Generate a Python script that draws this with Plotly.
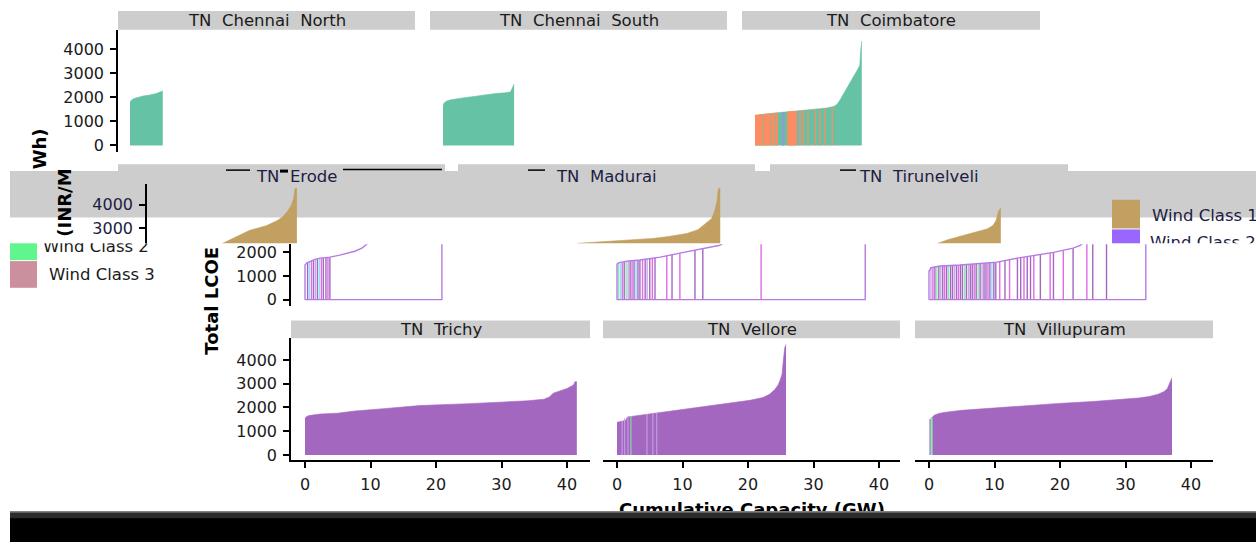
import plotly.graph_objects as go

W, H = 1256, 542
FONT = "DejaVu Sans"

# ---------------- data ----------------
row1_names = ["TN\u00a0 Chennai\u00a0 North", "TN\u00a0 Chennai\u00a0 South", "TN\u00a0 Coimbatore"]
row2_names = ["TN\u00a0 Erode", "TN\u00a0 Madurai", "TN\u00a0 Tirunelveli"]
row3_names = ["TN\u00a0 Trichy", "TN\u00a0 Vellore", "TN\u00a0 Villupuram"]
y_ticks = [0, 1000, 2000, 3000, 4000]
x_ticks = [0, 10, 20, 30, 40]
legend_labels = ["Wind Class 1", "Wind Class 2", "Wind Class 3"]
x_title = "Cumulative Capacity (GW)"
y_title_parts = ["Total LCOE", "(INR/M", "Wh)"]

# cumulative capacity (GW) and total LCOE (INR/MWh)
chennai_n_cap = [0, 0.2, 0.6, 1.2, 2.0, 3.0, 4.0, 4.6, 5.0]
chennai_n_lcoe = [1800, 1880, 1950, 2000, 2060, 2100, 2160, 2230, 2270]
chennai_s_cap = [0, 0.2, 0.6, 1.2, 2.5, 4.0, 6.0, 8.0, 9.5, 10.3, 10.6, 10.85]
chennai_s_lcoe = [1650, 1780, 1850, 1900, 1960, 2020, 2100, 2160, 2190, 2230, 2400, 2560]
coimbatore_cap = [0, 1, 3, 5, 7, 9, 11, 12, 12.5, 13.0, 13.5, 14.0, 14.5, 15.0, 15.5, 16.0, 16.15, 16.3]
coimbatore_lcoe = [1250, 1290, 1350, 1400, 1450, 1500, 1560, 1620, 1700, 1900, 2150, 2400, 2620, 2850, 3080,
                   3340, 4000, 4350]
coim_orange_start = [0.0, 0.6, 1.3, 1.8, 2.4, 3.1, 4.9, 5.4, 6.8, 7.2, 8.0, 9.1, 9.8, 10.6, 11.7]
coim_orange_end = [0.6, 1.2, 1.8, 2.3, 3.0, 3.5, 5.4, 6.4, 7.0, 7.4, 8.2, 9.3, 10.0, 10.8, 11.9]
coim_orange_lcoe = [1275, 1295, 1315, 1330, 1350, 1362, 1410, 1435, 1450, 1460, 1480, 1508, 1518, 1555, 1615]
coim_blue_start = [4.1, 6.5]
coim_blue_end = [4.5, 6.6]
coim_blue_lcoe = [1390, 1440]

erode_cap = [0, 0.3, 0.8, 1.5, 2.3, 3.8, 5.3, 7.6, 8.7, 9.6, 11.1, 12.5, 13.7, 15.0, 16.3, 17.9, 18.8, 19.4,
             20.0, 20.4, 20.6, 20.9]
erode_lcoe = [1460, 1550, 1625, 1700, 1750, 1790, 1875, 2040, 2170, 2375, 2580, 2760, 2920, 3020, 3125, 3330,
              3500, 3700, 3950, 4250, 4670, 4700]
madurai_cap = [0, 0.3, 1.5, 3.5, 6.6, 9.6, 12.7, 15.7, 16.2, 20, 24, 27.6, 30, 32.8, 34.5, 35.3, 36.0, 36.6,
               37.0, 37.4, 37.6, 37.9]
madurai_lcoe = [1500, 1560, 1625, 1670, 1790, 1960, 2125, 2290, 2375, 2440, 2510, 2580, 2660, 2790, 2950, 3125,
                3270, 3420, 3700, 4125, 4670, 4700]
tirunelveli_cap = [0, 0.3, 1.7, 4.7, 10.4, 13.7, 16.5, 19.0, 22.0, 23.1, 23.5, 25, 26.9, 28.5, 29.9, 31, 31.9,
                   32.4, 32.7, 33.0, 33.1]
tirunelveli_lcoe = [1200, 1350, 1420, 1460, 1580, 1760, 1870, 1990, 2170, 2290, 2375, 2520, 2670, 2780, 2875,
                    2980, 3125, 3350, 3700, 3875, 3875]

erode_line_cap = [0.4, 0.7, 1.0, 1.3, 1.6, 1.9, 2.2, 2.5, 2.8, 3.2, 3.5, 3.8]
erode_line_lcoe = [1560, 1600, 1630, 1660, 1690, 1710, 1730, 1750, 1760, 1770, 1780, 1790]
erode_line_cls = "pcmplpcmppmp"
madurai_line_cap = [0.2, 0.5, 0.8, 1.1, 1.4, 1.7, 2.0, 2.3, 2.6, 2.9, 3.2, 3.5, 3.9, 4.3, 4.6, 5.0, 5.4, 5.8,
                    7.6, 8.4, 9.6, 11.9, 13.1, 22.0]
madurai_line_lcoe = [1530, 1560, 1580, 1600, 1625, 1635, 1645, 1650, 1655, 1662, 1668, 1672, 1690, 1710, 1720,
                     1740, 1760, 1780, 1850, 1900, 1960, 2080, 2160, 2470]
madurai_line_cls = "gcmpglpmpcppmplpmpmpmppm"
tir_line_cap = [0.3, 0.6, 0.9, 1.2, 1.5, 1.8, 2.1, 2.4, 2.7, 3.0, 3.3, 3.6, 3.9, 4.2, 4.5, 4.8, 5.1, 5.4, 5.7,
                6.0, 6.3, 6.6, 6.9, 7.2, 7.5, 7.8, 8.1, 8.4, 8.7, 9.0, 9.3, 9.6, 9.9, 10.2, 10.8, 11.6, 12.3,
                13.5, 14.0, 14.5, 15.0, 15.5, 16.0, 17.0, 18.5, 19.0, 20.5, 22.0, 24.1, 25.0, 27.1]
tir_line_lcoe = [1350, 1365, 1380, 1395, 1410, 1420, 1425, 1430, 1433, 1437, 1441, 1445, 1450, 1453, 1457, 1462,
                 1470, 1477, 1483, 1490, 1495, 1500, 1507, 1513, 1520, 1525, 1532, 1538, 1545, 1550, 1557, 1563,
                 1570, 1576, 1600, 1645, 1685, 1750, 1770, 1790, 1810, 1830, 1850, 1890, 1965, 1990, 2080, 2170,
                 2400, 2450, 2600]
tir_line_cls = "lmpgplpmpg" + "pplpmppgpl" + "ppmpgplppm" + "pcppmpmppm" + "ppmpmpmpmp" + "p"

trichy_cap = [0, 0.15, 0.6, 2.3, 5, 7.6, 12, 17.5, 25, 30, 34, 36.5, 37.3, 37.9, 39.0, 40.0, 41.0, 41.2, 41.5]
trichy_lcoe = [1500, 1600, 1660, 1720, 1760, 1850, 1950, 2080, 2160, 2220, 2280, 2350, 2440, 2600, 2700, 2800,
               2950, 3080, 3080]
vellore_cap = [0, 1.3, 1.6, 3.5, 6, 9.6, 13, 15.7, 18, 20.3, 22.3, 23.3, 24.1, 24.6, 24.9, 25.2, 25.4, 25.6, 25.8]
vellore_lcoe = [1375, 1450, 1600, 1670, 1760, 1880, 2000, 2100, 2190, 2300, 2420, 2560, 2760, 2950, 3150, 3400,
                4000, 4500, 4650]
villupuram_cap = [0, 0.3, 0.8, 1.5, 2.3, 5, 10.7, 15, 19.8, 25, 29, 32, 33.6, 35, 35.9, 36.4, 36.7, 37.0, 37.1]
villupuram_lcoe = [1450, 1550, 1670, 1750, 1790, 1880, 2000, 2080, 2170, 2250, 2330, 2400, 2460, 2560, 2670,
                   2800, 3000, 3200, 3250]
vellore_lav_start = [0.7, 1.1, 1.6, 4.5, 5.4, 6.0]
vellore_lav_end = [0.85, 1.25, 1.75, 4.65, 5.55, 6.15]
vellore_lav_lcoe = [1440, 1560, 1610, 1720, 1760, 1780]
vellore_grn_start = [2.05]
vellore_grn_end = [2.2]
vellore_grn_lcoe = [1640]
villu_lav_start = [0.0]
villu_lav_end = [0.2]
villu_lav_lcoe = [1500]
villu_grn_start = [0.25]
villu_grn_end = [0.55]
villu_grn_lcoe = [1560]

# ---------------- styles ----------------
C_GREEN, C_ORANGE, C_BLUE = "#66C2A5", "#FC8D62", "#8DA0CB"
C_PURPLE, C_GOLD, C_OUTLINE = "#A467C0", "#C2A062", "#B57BE3"
C_STRIP = "#CDCDCD"
LINE_COLORS = {"p": "#A467C0", "m": "#DE6BE8", "c": "#86E6F2", "g": "#86F0A8", "l": "#C9A8E6"}
TXT = "#1a1a1a"

fig = go.Figure()
_n = [0]


def px_x(v):
    return v / W


def px_y(v):
    return 1 - v / H


def add_axes(x0, x1, y0, y1, xr, yr, xstyle=None, ystyle=None):
    _n[0] += 1
    s = "" if _n[0] == 1 else str(_n[0])
    xa = dict(domain=[px_x(x0), px_x(x1)], range=xr, anchor="y" + s, fixedrange=True,
              showgrid=False, zeroline=False, visible=xstyle is not None)
    ya = dict(domain=[px_y(y1), px_y(y0)], range=yr, anchor="x" + s, fixedrange=True,
              showgrid=False, zeroline=False, visible=ystyle is not None)
    if xstyle:
        xa.update(xstyle)
    if ystyle:
        ya.update(ystyle)
    fig.update_layout(**{"xaxis" + s: xa, "yaxis" + s: ya})
    return "x" + s, "y" + s


def tick_style(vals, color=TXT):
    return dict(showline=True, linecolor="black", linewidth=1.6, ticks="outside", ticklen=6,
                tickwidth=1.6, tickcolor="black", tickvals=vals, ticktext=[str(v) for v in vals],
                tickfont=dict(family=FONT, size=16, color=color), ticklabelstandoff=3)


def panel(x0, x1, zero_x, y0, y1, zero_y, px_per_gw=6.55, px_per_k=24.0, xstyle=None, ystyle=None):
    xr = [(x0 - zero_x) / px_per_gw, (x1 - zero_x) / px_per_gw]
    yr = [(zero_y - y1) / px_per_k * 1000, (zero_y - y0) / px_per_k * 1000]
    return add_axes(x0, x1, y0, y1, xr, yr, xstyle, ystyle)


def fill_curve(ax, cap, lcoe, color):
    fig.add_trace(go.Scatter(x=cap, y=lcoe, mode="lines", fill="tozeroy", fillcolor=color,
                             line=dict(color=color, width=0.6), xaxis=ax[0], yaxis=ax[1],
                             hoverinfo="skip", showlegend=False))


def stripes(ax, starts, ends, heights, color):
    xs, ys = [], []
    for a, b, h in zip(starts, ends, heights):
        xs += [a, b, b, a, a, None]
        ys += [0, 0, h, h, 0, None]
    fig.add_trace(go.Scatter(x=xs, y=ys, mode="lines", fill="toself", fillcolor=color,
                             line=dict(width=0, color=color), xaxis=ax[0], yaxis=ax[1],
                             hoverinfo="skip", showlegend=False))


def outline(ax, cap, lcoe):
    xs = [0] + list(cap) + [cap[-1], 0]
    ys = [0] + list(lcoe) + [0, 0]
    fig.add_trace(go.Scatter(x=xs, y=ys, mode="lines", line=dict(color=C_OUTLINE, width=1.4),
                             xaxis=ax[0], yaxis=ax[1], hoverinfo="skip", showlegend=False))


def vlines(ax, cap, lcoe, cls):
    for key, col in LINE_COLORS.items():
        xs, ys = [], []
        for c, v, k in zip(cap, lcoe, cls):
            if k == key:
                xs += [c, c, None]
                ys += [0, v, None]
        if xs:
            fig.add_trace(go.Scatter(x=xs, y=ys, mode="lines", line=dict(color=col, width=1.4),
                                     xaxis=ax[0], yaxis=ax[1], hoverinfo="skip", showlegend=False))


# ---------------- row 1 ----------------
r1_cols = [(118, 415, 130), (430, 727, 443), (742, 1040, 755)]
r1 = []
for i, (a, b, z) in enumerate(r1_cols):
    r1.append(panel(a, b, z, 29, 153, 146, px_per_k=24.25,
                    ystyle=tick_style(y_ticks) if i == 0 else None))
fill_curve(r1[0], chennai_n_cap, chennai_n_lcoe, C_GREEN)
fill_curve(r1[1], chennai_s_cap, chennai_s_lcoe, C_GREEN)
fill_curve(r1[2], coimbatore_cap, coimbatore_lcoe, C_GREEN)
stripes(r1[2], coim_orange_start, coim_orange_end, coim_orange_lcoe, C_ORANGE)
stripes(r1[2], coim_blue_start, coim_blue_end, coim_blue_lcoe, C_BLUE)

# ---------------- row 2 (upper, gold layer) ----------------
r2g_cols = [(147, 445, 160), (458, 755, 472), (770, 1068, 784)]
r2g = []
for i, (a, b, z) in enumerate(r2g_cols):
    r2g.append(panel(a, b, z, 185, 245, 302,
                     ystyle=tick_style([3000, 4000], "#1c1c44") if i == 0 else None))
for ax, cap, lc in zip(r2g, [erode_cap, madurai_cap, tirunelveli_cap],
                       [erode_lcoe, madurai_lcoe, tirunelveli_lcoe]):
    fill_curve(ax, cap, lc, C_GOLD)

# ---------------- row 2 (lower, outline layer) ----------------
r3_cols = [(291, 590, 305), (603, 900, 617), (915, 1213, 929)]
r2l = []
for i, (a, b, z) in enumerate(r3_cols):
    r2l.append(panel(a, b, z, 246, 308, 302,
                     ystyle=tick_style([0, 1000, 2000]) if i == 0 else None))
for ax, cap, lc, lx, ly, lk in zip(
        r2l, [erode_cap, madurai_cap, tirunelveli_cap], [erode_lcoe, madurai_lcoe, tirunelveli_lcoe],
        [erode_line_cap, madurai_line_cap, tir_line_cap], [erode_line_lcoe, madurai_line_lcoe, tir_line_lcoe],
        [erode_line_cls, madurai_line_cls, tir_line_cls]):
    vlines(ax, lx, ly, lk)
    outline(ax, cap, lc)

# ---------------- row 3 ----------------
r3 = []
for i, (a, b, z) in enumerate(r3_cols):
    r3.append(panel(a, b, z, 341, 464, 459,
                    xstyle=tick_style(x_ticks),
                    ystyle=tick_style(y_ticks) if i == 0 else None))
fill_curve(r3[0], trichy_cap, trichy_lcoe, C_PURPLE)
fill_curve(r3[1], vellore_cap, vellore_lcoe, C_PURPLE)
fill_curve(r3[2], villupuram_cap, villupuram_lcoe, C_PURPLE)
stripes(r3[1], vellore_lav_start, vellore_lav_end, vellore_lav_lcoe, LINE_COLORS["l"])
stripes(r3[1], vellore_grn_start, vellore_grn_end, vellore_grn_lcoe, LINE_COLORS["g"])
stripes(r3[2], villu_lav_start, villu_lav_end, villu_lav_lcoe, LINE_COLORS["l"])
stripes(r3[2], villu_grn_start, villu_grn_end, villu_grn_lcoe, LINE_COLORS["g"])


# ---------------- clipped text canvases ----------------
def canvas(x0, x1, y0, y1):
    return add_axes(x0, x1, y0, y1, [x0, x1], [y1, y0])


def canvas_text(cv, x, y, text, size, color, bold=False, pos="middle right"):
    fig.add_trace(go.Scatter(x=[x], y=[y], mode="text", text=["<b>%s</b>" % text if bold else text],
                             textposition=pos, cliponaxis=True,
                             textfont=dict(family=FONT, size=size, color=color),
                             xaxis=cv[0], yaxis=cv[1], hoverinfo="skip", showlegend=False))


cv_left = canvas(0, 200, 245, 300)
canvas_text(cv_left, 43, 250, legend_labels[1], 16.5, TXT)
cv_right = canvas(1040, 1256, 185, 245)
canvas_text(cv_right, 1150, 246, legend_labels[1], 16.5, "#1c1c44")
cv_title = canvas(0, W, 480, 516)
canvas_text(cv_title, 752, 516, x_title, 18, "black", bold=True, pos="middle center")

# ---------------- decorations ----------------
shapes = []


def rect(x0, y0, x1, y1, color, layer="below"):
    shapes.append(dict(type="rect", xref="paper", yref="paper", x0=px_x(x0), x1=px_x(x1),
                       y0=px_y(y1), y1=px_y(y0), fillcolor=color, line=dict(width=0), layer=layer))


def hline(x0, x1, y, color="black", width=2):
    shapes.append(dict(type="line", xref="paper", yref="paper", x0=px_x(x0), x1=px_x(x1),
                       y0=px_y(y), y1=px_y(y), line=dict(color=color, width=width), layer="above"))


for a, b, _ in r1_cols:
    rect(a, 10, b, 29, C_STRIP)
rect(10, 172, W, 219, C_STRIP)
for a, b, _ in [(118, 445, 0), (458, 755, 0), (770, 1068, 0)]:
    rect(a, 165, b, 186, C_STRIP)
for a, b, _ in r3_cols:
    rect(a, 323, b, 341, C_STRIP)
hline(343, 442, 170.5, width=1.5)
hline(226, 250, 171, width=1.5)
hline(280, 288, 172, width=3)
hline(528, 545, 171, width=1.5)
hline(840, 856, 171, width=1.5)
# legend swatches
rect(1112, 201, 1140, 230, C_GOLD, "above")
rect(1112, 231, 1140, 245, "#9966FF", "above")
rect(10, 245, 37, 262, "#61F58E", "above")
rect(10, 263, 37, 290, "#CC8F9E", "above")
# bottom bar
rect(10, 516, W + 5, H + 10, "black", "above")
rect(10, 516, W + 5, 517.5, "#9a9a9a", "above")
rect(10, 517.5, W + 5, 523, "#2b2b2b", "above")

annotations = []


def text(x, y, s, size=16.5, color=TXT, bold=False, angle=0, anchor="center"):
    annotations.append(dict(xref="paper", yref="paper", x=px_x(x), y=px_y(y), text="<b>%s</b>" % s if bold else s,
                            showarrow=False, textangle=angle, xanchor=anchor, yanchor="middle",
                            font=dict(family=FONT, size=size, color=color)))


for (a, b, _), name in zip(r1_cols, row1_names):
    text((a + b) / 2, 19.5, name)
for (a, b, _), name in zip(r2g_cols, row2_names):
    text((a + b) / 2, 177, name, color="#1c1c44")
for (a, b, _), name in zip(r3_cols, row3_names):
    text((a + b) / 2, 332, name)
text(1150, 217, legend_labels[0], color="#1c1c44", anchor="left")
text(47, 277, legend_labels[2], anchor="left")
text(212, 303, y_title_parts[0], size=18, color="black", bold=True, angle=-90)
text(65, 204, y_title_parts[1], size=18, color="black", bold=True, angle=-90)
text(39, 150, y_title_parts[2], size=18, color="black", bold=True, angle=-90)

fig.update_layout(width=W, height=H, margin=dict(l=0, r=0, t=0, b=0), paper_bgcolor="white",
                  plot_bgcolor="rgba(0,0,0,0)", showlegend=False, shapes=shapes, annotations=annotations,
                  font=dict(family=FONT))
fig.write_html("out.html", config={"displayModeBar": False})
